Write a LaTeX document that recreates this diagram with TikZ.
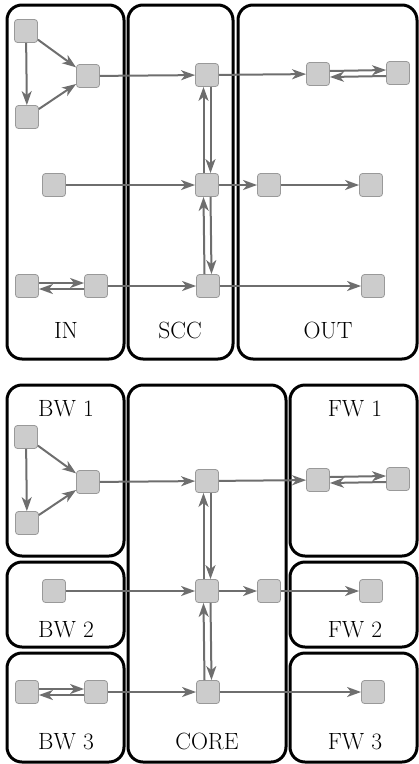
\documentclass[tikz,border=0pt]{standalone}
\usetikzlibrary{arrows.meta}
\begin{document}
\begin{tikzpicture}[x=1pt,y=-1pt,
  region/.style={draw=black,line width=3pt,rounded corners=15pt},
  vx/.style={draw=black!40,line width=0.8pt,fill=black!20,rounded corners=3pt,minimum size=23pt,inner sep=0pt},
  ed/.style={draw=black!57,line width=2pt,-{Stealth[length=14pt,width=10pt,inset=4pt]}},
  lab/.style={font=\fontsize{23.5}{27}\selectfont,anchor=base,inner sep=0pt}]
\useasboundingbox (0,0) rectangle (419,764);
\newcommand{\gpart}[1]{%
  \node[vx] (a1#1) at (26,31) {};
  \node[vx] (a2#1) at (88,76) {};
  \node[vx] (a3#1) at (27,117) {};
  \node[vx] (b1#1) at (54,185) {};
  \node[vx] (c1#1) at (27,286) {};
  \node[vx] (c2#1) at (96,286) {};
  \node[vx] (s1#1) at (207,75) {};
  \node[vx] (s2#1) at (207,185) {};
  \node[vx] (s3#1) at (208,286) {};
  \node[vx] (o1#1) at (318,74) {};
  \node[vx] (o2#1) at (398,73) {};
  \node[vx] (o3#1) at (269,185) {};
  \node[vx] (o4#1) at (371,185) {};
  \node[vx] (o5#1) at (373,286) {};
  \draw[ed] (a1#1) -- (a2#1);
  \draw[ed] (a1#1) -- (a3#1);
  \draw[ed] (a3#1) -- (a2#1);
  \draw[ed] (a2#1) -- (s1#1);
  \draw[ed] (s1#1) -- (o1#1);
  \draw[ed] ([yshift=3pt]o1#1.east) -- ([yshift=3pt]o2#1.west);
  \draw[ed] ([yshift=-3pt]o2#1.west) -- ([yshift=-3pt]o1#1.east);
  \draw[ed] ([xshift=-3.5pt]s2#1.north) -- ([xshift=-3.5pt]s1#1.south);
  \draw[ed] ([xshift=3.5pt]s1#1.south) -- ([xshift=3.5pt]s2#1.north);
  \draw[ed] ([xshift=-3.5pt]s3#1.north) -- ([xshift=-3.5pt]s2#1.south);
  \draw[ed] ([xshift=3.5pt]s2#1.south) -- ([xshift=3.5pt]s3#1.north);
  \draw[ed] (b1#1) -- (s2#1);
  \draw[ed] (s2#1) -- (o3#1);
  \draw[ed] (o3#1) -- (o4#1);
  \draw[ed] ([yshift=3pt]c1#1.east) -- ([yshift=3pt]c2#1.west);
  \draw[ed] ([yshift=-3pt]c2#1.west) -- ([yshift=-3pt]c1#1.east);
  \draw[ed] (c2#1) -- (s3#1);
  \draw[ed] (s3#1) -- (o5#1);
}
% top panel regions
\draw[region] (7,5) rectangle (124,359);
\draw[region] (128,5) rectangle (233,359);
\draw[region] (238,5) rectangle (417,359);
\node[lab] (lin) at (66,338) {IN};
\node[lab] (lscc) at (180,338) {SCC};
\node[lab] (lout) at (328,338) {OUT};
% bottom panel regions
\draw[region] (7,385) rectangle (124,556);
\draw[region] (7,562) rectangle (124,647);
\draw[region] (7,653) rectangle (124,762);
\draw[region] (128,385) rectangle (286,762);
\draw[region] (290,385) rectangle (417,556);
\draw[region] (290,562) rectangle (417,647);
\draw[region] (290,653) rectangle (417,762);
\node[lab] (lbw1) at (66,416) {BW 1};
\node[lab] (lbw2) at (66,637) {BW 2};
\node[lab] (lbw3) at (66,749) {BW 3};
\node[lab] (lcore) at (207,749) {CORE};
\node[lab] (lfw1) at (355,416) {FW 1};
\node[lab] (lfw2) at (355,637) {FW 2};
\node[lab] (lfw3) at (355,749) {FW 3};
% graphs
\gpart{t}
\begin{scope}[yshift=-406pt]
\gpart{b}
\end{scope}
\end{tikzpicture}
\end{document}
